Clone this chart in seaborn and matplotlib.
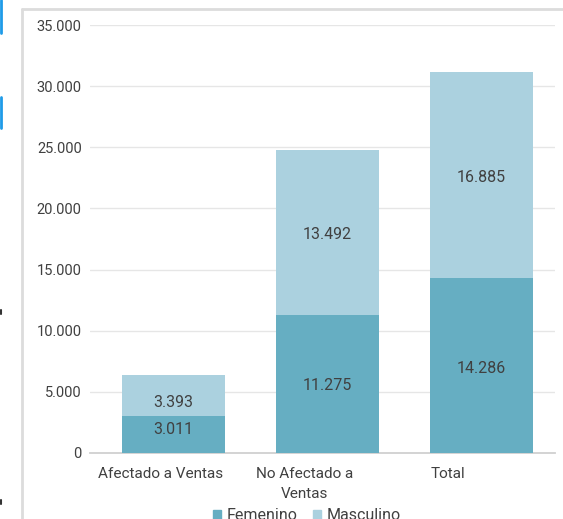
import matplotlib
matplotlib.use("Agg")
import matplotlib.pyplot as plt
from matplotlib.lines import Line2D
from matplotlib.transforms import ScaledTranslation
import seaborn as sns
import pandas as pd
import numpy as np

categories = ["Afectado a Ventas", "No Afectado a\nVentas", "Total"]
femenino = [3011, 11275, 14286]
masculino = [3393, 13492, 16885]
yticks = [0, 5000, 10000, 15000, 20000, 25000, 30000, 35000]

sns.set_theme(style="white")
plt.rcParams['font.family'] = ['Roboto', 'DejaVu Sans']

C_FEM = "#66aec2"
C_MAS = "#abd1df"
TXT = "#404040"

def fmt(v):
    return f"{v:,}".replace(",", ".")

df = pd.DataFrame({"cat": categories,
                   "Femenino": femenino,
                   "Masculino": masculino})
df["top"] = df["Femenino"] + df["Masculino"]

fig = plt.figure(figsize=(5.63, 5.19), dpi=100)
ax = fig.add_axes([0.16, 0.1272, 0.826, 0.8246])

sns.barplot(data=df, x="cat", y="top", color=C_MAS, width=0.67,
            saturation=1, ax=ax, zorder=2)
sns.barplot(data=df, x="cat", y="Femenino", color=C_FEM, width=0.67,
            saturation=1, ax=ax, zorder=3)

n = len(categories)
mas_bars = ax.patches[:n]
fem_bars = ax.patches[n:2 * n]
for b in list(mas_bars) + list(fem_bars):
    b.set_edgecolor("none")

# label nudges in points (first bar labels spread apart like the reference)
nud_f = [3.5, -1, -2]
nud_m = [-5, -1, -2]
for i, (b, f, m) in enumerate(zip(mas_bars, femenino, masculino)):
    cx = b.get_x() + b.get_width() / 2
    ax.annotate(fmt(f), (cx, f / 2), xytext=(0, nud_f[i]),
                textcoords="offset points", ha="center", va="center",
                fontsize=11.5, color=TXT, zorder=5)
    ax.annotate(fmt(m), (cx, f + m / 2), xytext=(0, nud_m[i]),
                textcoords="offset points", ha="center", va="center",
                fontsize=11.5, color=TXT, zorder=5)

ax.set_ylim(0, 35000)
ax.set_xlim(-0.542, 2.478)
ax.set_yticks(yticks)
ax.set_yticklabels([fmt(v) for v in yticks], fontsize=10.5, color=TXT)
ax.tick_params(axis="x", labelsize=11, colors=TXT, length=0, pad=10)
ax.tick_params(axis="y", length=0, pad=6)
ax.set_xlabel("")
ax.set_ylabel("")
ax.yaxis.grid(True, color="#e6e6e6", linewidth=1, zorder=0)
ax.set_axisbelow(True)
for s in ["left", "right", "top"]:
    ax.spines[s].set_visible(False)
ax.spines["bottom"].set_color("#d0d0d0")
ax.spines["bottom"].set_linewidth(1.3)
shifts = [-13, -23, -34]
for lbl, dx in zip(ax.get_xticklabels(), shifts):
    lbl.set_linespacing(1.6)
    lbl.set_transform(lbl.get_transform() +
                      ScaledTranslation(dx / 100, 0, fig.dpi_scale_trans))

handles = [plt.Rectangle((0, 0), 1, 1, color=C_FEM),
           plt.Rectangle((0, 0), 1, 1, color=C_MAS)]
fig.legend(handles, ["Femenino", "Masculino"], loc="center",
           bbox_to_anchor=(307 / 563, 1 - 516 / 519), ncol=2, frameon=False,
           fontsize=11.5, handlelength=0.5, handleheight=0.5,
           handletextpad=0.35, columnspacing=1.0, labelcolor=TXT)

# chart frame and edge marks
W, H = 563, 519
fig.add_artist(Line2D([22 / W, 22 / W], [0, 1 - 9 / H], color="#dcdcdc", lw=2))
fig.add_artist(Line2D([22 / W, 1], [1 - 9 / H, 1 - 9 / H], color="#dcdcdc", lw=2))
fig.add_artist(Line2D([1 / W, 1 / W], [1 - 33 / H, 1], color="#1e9be8", lw=2))
fig.add_artist(Line2D([1 / W, 1 / W], [1 - 128 / H, 1 - 97 / H], color="#1e9be8", lw=2))
fig.add_artist(Line2D([0.5 / W, 0.5 / W], [1 - 314 / H, 1 - 310 / H], color="#333333", lw=1.5))
fig.add_artist(Line2D([0.5 / W, 0.5 / W], [1 - 504 / H, 1 - 500 / H], color="#333333", lw=1.5))

fig.savefig("out.png", dpi=100)
